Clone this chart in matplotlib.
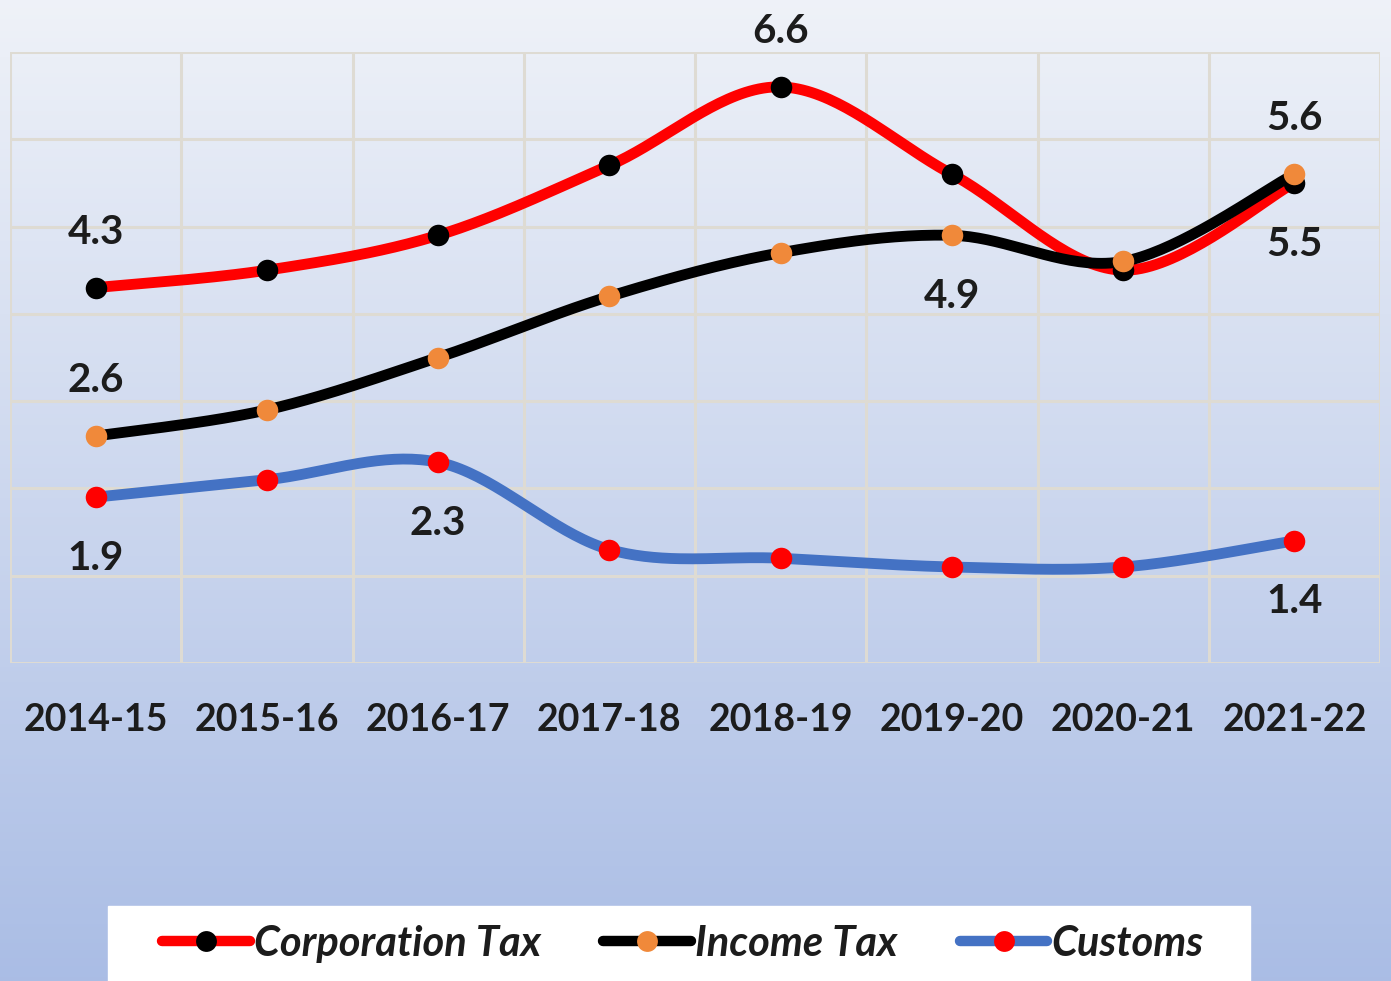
"""Tax collection growth by head, 2014-15 to 2021-22 (Excel-style smooth lines)."""
import numpy as np
import matplotlib

matplotlib.use("Agg")
import matplotlib.pyplot as plt
from matplotlib.lines import Line2D
from matplotlib.patches import Rectangle

YEARS = ["2014-15", "2015-16", "2016-17", "2017-18",
         "2018-19", "2019-20", "2020-21", "2021-22"]
CORPORATION = [4.3, 4.5, 4.9, 5.7, 6.6, 5.6, 4.5, 5.5]
INCOME = [2.6, 2.9, 3.5, 4.2, 4.7, 4.9, 4.6, 5.6]
CUSTOMS = [1.9, 2.1, 2.3, 1.3, 1.2, 1.1, 1.1, 1.4]

# (series, index, text, "above"/"below")
LABELS = [
    (CORPORATION, 0, "4.3", "above"), (CORPORATION, 4, "6.6", "above"),
    (CORPORATION, 7, "5.5", "below"),
    (INCOME, 0, "2.6", "above"), (INCOME, 5, "4.9", "below"),
    (INCOME, 7, "5.6", "above"),
    (CUSTOMS, 0, "1.9", "below"), (CUSTOMS, 2, "2.3", "below"),
    (CUSTOMS, 7, "1.4", "below"),
]

FONT = ["Lato", "DejaVu Sans"]
TEXT_COLOR = "#1c1c1c"
W, H = 1391, 981


def smooth(xs, ys, n=40):
    """Bezier smoothing like Excel's 'smoothed line' (control points at 1/6)."""
    p = np.column_stack([xs, ys]).astype(float)
    p = np.vstack([p[0], p, p[-1]])
    out = []
    t = np.linspace(0, 1, n)[:, None]
    for i in range(1, len(p) - 2):
        p0, p3 = p[i], p[i + 1]
        p1 = p0 + (p[i + 1] - p[i - 1]) / 6
        p2 = p3 - (p[i + 2] - p[i]) / 6
        seg = ((1 - t) ** 3 * p0 + 3 * (1 - t) ** 2 * t * p1
               + 3 * (1 - t) * t ** 2 * p2 + t ** 3 * p3)
        out.append(seg if i == 1 else seg[1:])
    seg = np.vstack(out)
    return seg[:, 0], seg[:, 1]


fig = plt.figure(figsize=(W / 100, H / 100), dpi=100)

# background gradient over the whole figure
bg = fig.add_axes([0, 0, 1, 1], zorder=0)
top = np.array([0.937, 0.949, 0.973])
bot = np.array([0.667, 0.741, 0.898])
frac = np.linspace(0, 1, 256)[:, None]
grad = (top * (1 - frac) + bot * frac)[:, None, :]
bg.imshow(grad, aspect="auto", extent=[0, 1, 0, 1])
bg.set_axis_off()

ax = fig.add_axes([10 / W, 1 - 663 / H, 1370 / W, 611 / H], zorder=1)
ax.patch.set_alpha(0)
x = np.arange(len(YEARS))
ax.set_xlim(-0.5, len(YEARS) - 0.5)
ax.set_ylim(0, 7)
ax.set_yticks(range(0, 8))
ax.set_xticks(np.arange(-0.5, len(YEARS)), minor=False)
ax.set_xticklabels([])
ax.grid(True, color="#dedbd3", lw=2.2)
ax.set_axisbelow(True)
for s in ax.spines.values():
    s.set_visible(False)
ax.tick_params(length=0, labelleft=False)
for i, yr in enumerate(YEARS):
    ax.text(i, -0.65, yr, ha="center", va="center", fontsize=27,
            fontweight="bold", family=FONT, color=TEXT_COLOR)

series = [
    (CORPORATION, "#ff0000", "#000000", "Corporation Tax"),
    (INCOME, "#000000", "#f0893a", "Income Tax"),
    (CUSTOMS, "#4472c4", "#ff0000", "Customs"),
]
handles = []
for vals, lc, mc, name in series:
    sx, sy = smooth(x, vals)
    ax.plot(sx, sy, color=lc, lw=7.8, solid_capstyle="round", zorder=3)
    ax.plot(x, vals, "o", color=mc, ms=15.5, mew=0, zorder=4)
    handles.append(Line2D([], [], color=lc, lw=7.5, marker="o",
                          markerfacecolor=mc, markeredgewidth=0, ms=15,
                          solid_capstyle="round", label=name))

for vals, i, txt, where in LABELS:
    dy = 40 if where == "above" else -44
    ax.annotate(txt, (i, vals[i]), xytext=(0, dy), textcoords="offset points",
                ha="center", va="center", fontsize=29, fontweight="bold",
                family=FONT, color=TEXT_COLOR, zorder=5)

# white legend panel cut off at the bottom edge
fig.patches.append(Rectangle((108 / W, 0), 1142 / W, 75 / H,
                             transform=fig.transFigure, color="white", zorder=2))
leg = fig.legend(handles=handles, loc="center", bbox_to_anchor=(683 / W, 1 - 944 / H),
                 ncol=3, frameon=False, handlelength=2.1, handletextpad=0.1,
                 columnspacing=1.5,
                 prop={"family": FONT, "weight": "bold", "style": "italic", "size": 30})
leg.set_zorder(3)
for t in leg.get_texts():
    t.set_color(TEXT_COLOR)

fig.savefig("out.png", dpi=100)
